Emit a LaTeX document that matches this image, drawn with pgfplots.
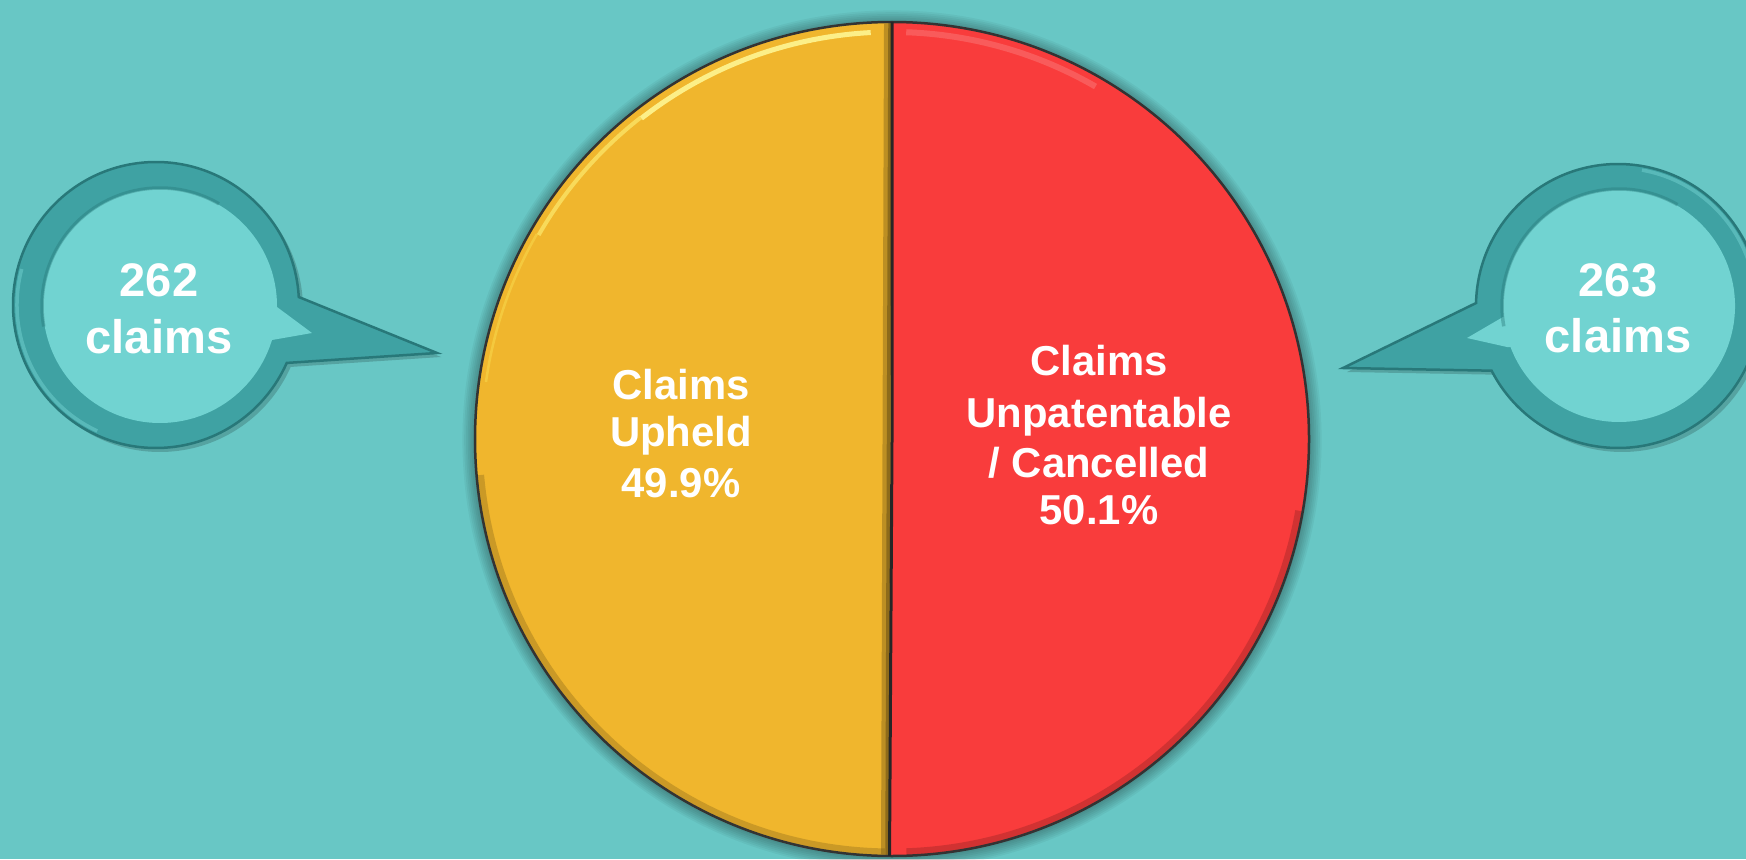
\documentclass[border=0pt]{standalone}
\usepackage{pgfplots}
\usepackage{pgfplotstable}
\pgfplotsset{compat=1.18}
\usepackage{fontspec}
\setmainfont{Liberation Sans}
\definecolor{bg}{RGB}{104,199,197}
\definecolor{pyel}{RGB}{240,182,45}
\definecolor{pred}{RGB}{249,60,60}
\definecolor{ring}{RGB}{63,162,163}
\definecolor{ringdark}{RGB}{40,120,121}
\definecolor{ringlight}{RGB}{120,214,213}
\definecolor{inner}{RGB}{113,211,209}
\pgfplotstableread{
label value
Upheld 262
Cancelled 263
}\piedata
\begin{document}
\begin{tikzpicture}
\pgfplotstablegetelem{0}{value}\of\piedata \let\vA\pgfplotsretval
\pgfplotstablegetelem{1}{value}\of\piedata \let\vB\pgfplotsretval
\pgfmathsetmacro{\angA}{\vA/(\vA+\vB)*360}
\pgfmathsetmacro{\angB}{\vB/(\vA+\vB)*360}
\pgfmathsetmacro{\endB}{90-\angB}
\begin{axis}[name=ax, at={(0,0)}, anchor=south west,
  x=0.1mm, y=0.1mm, xmin=0, xmax=1746, ymin=0, ymax=859,
  hide axis, clip=false]
% background
\fill[bg] (axis cs:0,0) rectangle (axis cs:1746,859);
% pie shadow
\pgfplotsinvokeforeach{1,...,7}{
  \fill[black, opacity=0.045] (axis cs:892,419) circle[radius=41.7mm+#1*0.18mm];
}
% wedges
\fill[pred] (axis cs:892,420) -- ++(90:41.7mm) arc[start angle=90, end angle=\endB, radius=41.7mm] -- cycle;
\fill[pyel] (axis cs:892,420) -- ++(90:41.7mm) arc[start angle=90, end angle=90+\angA, radius=41.7mm] -- cycle;
% bevel: yellow
\draw[color=white!60!yellow, line width=0.5mm, opacity=0.85] (axis cs:892,420) ++(93:40.7mm) arc[start angle=93, end angle=128, radius=40.7mm];
\draw[color=white!50!yellow, line width=0.4mm, opacity=0.55] (axis cs:892,420) ++(128:40.8mm) arc[start angle=128, end angle=150, radius=40.8mm];
\draw[color=white!40!yellow, line width=0.25mm, opacity=0.3] (axis cs:892,420) ++(150:41mm) arc[start angle=150, end angle=172, radius=41mm];
\draw[color=pyel!55!black, line width=0.7mm, opacity=0.35] (axis cs:892,420) ++(185:41.3mm) arc[start angle=185, end angle=269, radius=41.3mm];
% bevel: red
\draw[color=pred!60!white, line width=0.6mm, opacity=0.4] (axis cs:892,420) ++(88:40.7mm) arc[start angle=88, end angle=60, radius=40.7mm];
\draw[color=pred!55!black, line width=0.7mm, opacity=0.35] (axis cs:892,420) ++(350:41.3mm) arc[start angle=350, end angle=272, radius=41.3mm];
% divider shading
\draw[color=pyel!40!black, line width=0.8mm, opacity=0.35] (axis cs:888,835) -- (axis cs:885,5);
\draw[color=pyel!40!black, line width=0.35mm, opacity=0.5] (axis cs:890,836) -- (axis cs:887,4);
% outline and divider
\draw[black!80, line width=0.25mm] (axis cs:892,420) circle[radius=41.7mm];
\draw[black!85, line width=0.3mm] (axis cs:892,420) ++(90:41.7mm) -- (axis cs:892,420) -- ++(\endB:41.7mm);
% pie labels
\begin{scope}[every node/.style={text=white, anchor=base, font=\bfseries\fontsize{11.9}{14}\selectfont, inner sep=0pt}]
\node at (axis cs:681,460) {Claims};
\node at (axis cs:681,413) {Upheld};
\node at (axis cs:681,362) {49.9\%};
\node at (axis cs:1099,484) {Claims};
\node at (axis cs:1099,432) {Unpatentable};
\node at (axis cs:1099,382) {/ Cancelled};
\node at (axis cs:1099,335) {50.1\%};
\end{scope}
% left bubble
\fill[black, opacity=0.18] (axis cs:160,550) ++(3.2:14.3mm) arc[start angle=3.2, end angle=336.1, radius=14.3mm] -- (axis cs:441,502) -- cycle;
\filldraw[fill=ring, draw=ringdark, line width=0.25mm] (axis cs:156,554) ++(3.2:14.3mm) arc[start angle=3.2, end angle=336.1, radius=14.3mm] -- (axis cs:437,506) -- cycle;
\draw[ringlight, line width=0.35mm, opacity=0.45] (axis cs:156,554) ++(165:13.9mm) arc[start angle=165, end angle=245, radius=13.9mm];
\fill[inner] (axis cs:160,553) circle[radius=11.7mm];
\fill[inner] (axis cs:262,560) -- (axis cs:277,552) -- (axis cs:312,526) -- (axis cs:272,519) -- (axis cs:262,520) -- cycle;
\draw[ringdark, line width=0.35mm, opacity=0.4] (axis cs:160,553) ++(60:11.8mm) arc[start angle=60, end angle=190, radius=11.8mm];
% right bubble
\fill[black, opacity=0.18] (axis cs:1622,549) ++(178.8:14.2mm) arc[start angle=178.8, end angle=-152.9, radius=14.2mm] -- (axis cs:1347,487) -- cycle;
\filldraw[fill=ring, draw=ringdark, line width=0.25mm] (axis cs:1618,553) ++(178.8:14.2mm) arc[start angle=178.8, end angle=-152.9, radius=14.2mm] -- (axis cs:1343,491) -- cycle;
\draw[ringlight, line width=0.35mm, opacity=0.45] (axis cs:1618,553) ++(15:13.8mm) arc[start angle=15, end angle=80, radius=13.8mm];
\fill[inner] (axis cs:1619,553) circle[radius=11.6mm];
\fill[inner] (axis cs:1515,548) -- (axis cs:1503,542) -- (axis cs:1467,521) -- (axis cs:1507,512) -- (axis cs:1520,512) -- cycle;
\draw[ringdark, line width=0.35mm, opacity=0.4] (axis cs:1619,553) ++(60:11.7mm) arc[start angle=60, end angle=190, radius=11.7mm];
% bubble labels
\begin{scope}[every node/.style={text=white, anchor=base, font=\bfseries\fontsize{13.4}{16}\selectfont, inner sep=0pt}]
\node at (axis cs:159,562) {262};
\node at (axis cs:159,506) {claims};
\node at (axis cs:1618,563) {263};
\node at (axis cs:1618,507) {claims};
\end{scope}
\end{axis}
\pgfresetboundingbox
\path (ax.south west) rectangle (ax.north east);
\end{tikzpicture}
\end{document}
